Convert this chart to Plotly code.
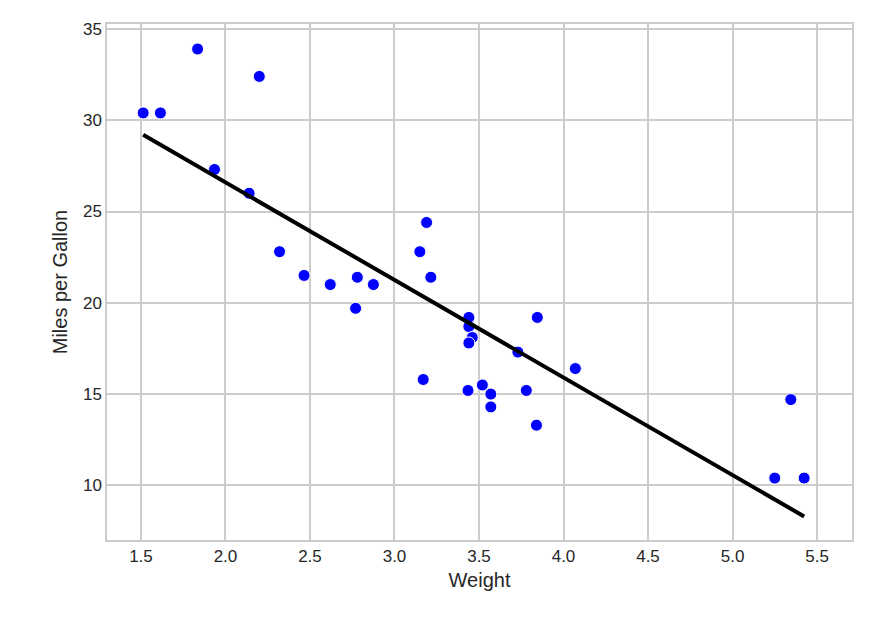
import plotly.graph_objects as go

weight = [2.620, 2.875, 2.320, 3.215, 3.440, 3.460, 3.570, 3.190, 3.150, 3.440, 3.440, 4.070,
          3.730, 3.780, 5.250, 5.424, 5.345, 2.200, 1.615, 1.835, 2.465, 3.520, 3.435, 3.840,
          3.845, 1.935, 2.140, 1.513, 3.170, 2.770, 3.570, 2.780]
mpg = [21.0, 21.0, 22.8, 21.4, 18.7, 18.1, 14.3, 24.4, 22.8, 19.2, 17.8, 16.4,
       17.3, 15.2, 10.4, 10.4, 14.7, 32.4, 30.4, 33.9, 21.5, 15.5, 15.2, 13.3,
       19.2, 27.3, 26.0, 30.4, 15.8, 19.7, 15.0, 21.4]
fit_x = [1.513, 5.424]
fit_y = [29.20, 8.30]

fig = go.Figure()
fig.add_trace(go.Scatter(x=weight, y=mpg, mode="markers",
                         marker=dict(color="blue", size=12, line=dict(color="white", width=1))))
fig.add_trace(go.Scatter(x=fit_x, y=fit_y, mode="lines", line=dict(color="black", width=4)))

ax = dict(showgrid=True, gridcolor="#cccccc", gridwidth=1.5, zeroline=False,
          showline=True, linecolor="#cccccc", linewidth=1.5, mirror=True,
          ticks="", tickfont=dict(size=17, color="#262626"),
          title_font=dict(size=20, color="#262626"))
fig.update_layout(
    width=869, height=644, showlegend=False,
    paper_bgcolor="white", plot_bgcolor="white",
    font=dict(family="Arial, Liberation Sans, sans-serif"),
    margin=dict(l=99, r=25, t=12, b=112),
    xaxis=dict(ax, title=dict(text="Weight", standoff=8), range=[1.299, 5.707],
               tickvals=[1.5, 2.0, 2.5, 3.0, 3.5, 4.0, 4.5, 5.0, 5.5],
               ticktext=["1.5", "2.0", "2.5", "3.0", "3.5", "4.0", "4.5", "5.0", "5.5"]),
    yaxis=dict(ax, title=dict(text="Miles per Gallon", standoff=10), range=[7.01, 35.27],
               tickvals=[10, 15, 20, 25, 30, 35]),
)
fig.write_html("out.html")
